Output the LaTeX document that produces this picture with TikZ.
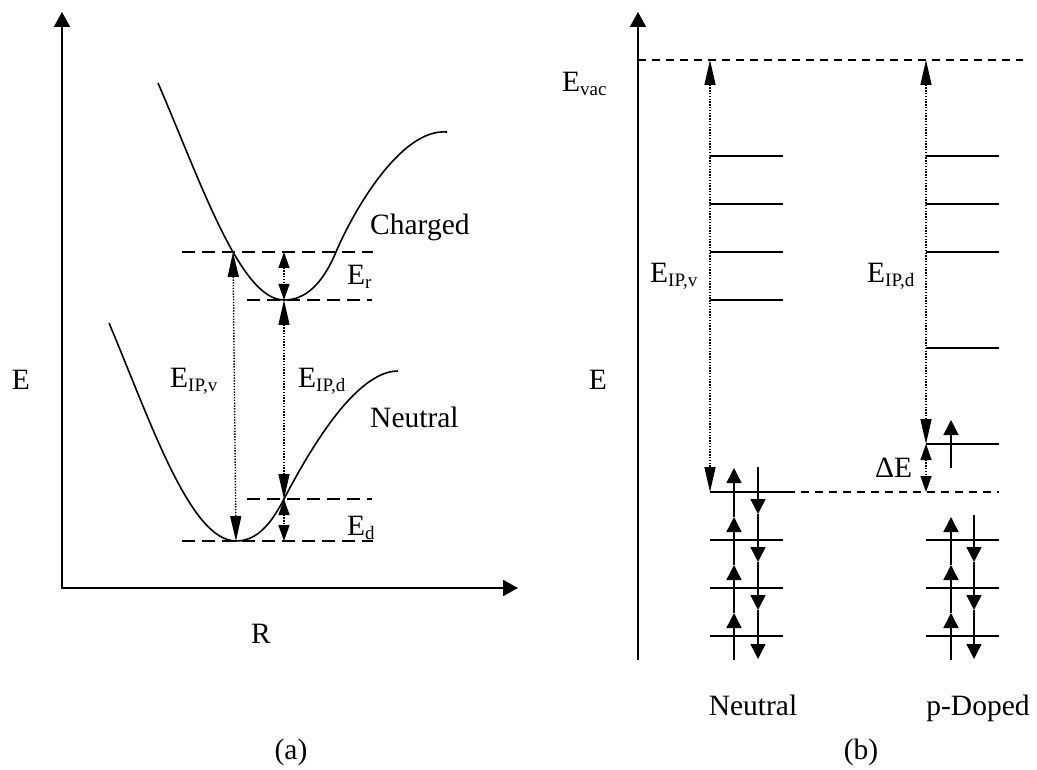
\documentclass[tikz,border=0pt]{standalone}
\usepackage{fontspec}
\setmainfont{Liberation Serif}
\usetikzlibrary{arrows.meta}
\newcommand{\lowsub}[1]{\raisebox{-4pt}{\fontsize{19}{19}\selectfont #1}}
\begin{document}
\begin{tikzpicture}[x=1pt,y=-1pt,
  axisline/.style={line width=1.8pt,line join=miter},
  axtip/.tip={Triangle[length=15pt,width=16pt]},
  longtip/.tip={Triangle[length=25pt,width=11pt]},
  shorttip/.tip={Triangle[length=16pt,width=11pt]},
  etip/.tip={Triangle[length=15pt,width=15pt]},
  curve/.style={line width=1.6pt},
  dashA/.style={line width=1.5pt,dash pattern=on 13pt off 7pt},
  dashB/.style={line width=1.5pt,dash pattern=on 8pt off 6pt},
  dotlong/.style={line width=1.4pt,dash pattern=on 1.4pt off 1.4pt,longtip-longtip},
  dotshort/.style={line width=1.4pt,dash pattern=on 1.4pt off 1.4pt,shorttip-shorttip},
  level/.style={line width=1.6pt},
  elec/.style={line width=1.6pt,-etip},
  lbl/.style={inner sep=0pt,font=\fontsize{29.5}{31}\selectfont}
]
\useasboundingbox (0,0) rectangle (1037,770);

% ---------------- panel (a) ----------------
\coordinate (aO) at (62,588);
\coordinate (aY) at (62,12);
\coordinate (aX) at (518,588);
\draw[axisline,axtip-axtip] (aY) -- (aO) -- (aX);

% curves
\draw[curve] (158,83) .. controls (200,180) and (240,300) .. (284,300)
  .. controls (305,300) and (322,285) .. (336,252)
  .. controls (352,214) and (400,128) .. (447,132);
\draw[curve] (109,323) .. controls (150,420) and (190,541) .. (236,541)
  .. controls (258,541) and (272,522) .. (284,499)
  .. controls (308,453) and (355,371) .. (398,371);

% dashed levels
\coordinate (cHiL) at (182,252); \coordinate (cHiR) at (373,252);
\coordinate (cLoL) at (247,300); \coordinate (cLoR) at (372,300);
\coordinate (nHiL) at (247,499); \coordinate (nHiR) at (372,499);
\coordinate (nLoL) at (182,541); \coordinate (nLoR) at (373,541);
\draw[dashA] (cHiL) -- (cHiR);
\draw[dashA] (cLoL) -- (cLoR);
\draw[dashA] (nHiL) -- (nHiR);
\draw[dashA] (nLoL) -- (nLoR);

% dotted arrows
\coordinate (vTop) at (233,252); \coordinate (vBot) at (236,541);
\coordinate (d1) at (284,252); \coordinate (d2) at (284,300);
\coordinate (d3) at (284,499); \coordinate (d4) at (284,541);
\draw[dotlong] (vTop) -- (vBot);
\draw[dotshort] (d1) -- (d2);
\draw[dotlong] (d2) -- (d3);
\draw[dotshort] (d3) -- (d4);

% labels (a)
\node[lbl] (aE) at (21,380) {E};
\node[lbl,anchor=base west] (charged) at (370,235) {Charged};
\node[lbl,anchor=base west] (Er) at (347,285) {E\lowsub{r}};
\node[lbl,anchor=base west] (neutralA) at (370,427) {Neutral};
\node[lbl,anchor=base west] (Ed) at (347,535) {E\lowsub{d}};
\node[lbl,anchor=base west] (EIPvA) at (170,388) {E\lowsub{IP,v}};
\node[lbl,anchor=base west] (EIPdA) at (298,388) {E\lowsub{IP,d}};
\node[lbl,anchor=base] (R) at (261,643) {R};
\node[lbl] (capA) at (291,752) {(a)};

% ---------------- panel (b) ----------------
\coordinate (bO) at (638,660);
\coordinate (bY) at (638,12);
\draw[axisline,-axtip] (bO) -- (bY);
\coordinate (vacL) at (638,60); \coordinate (vacR) at (1023,60);
\draw[dashB] (vacL) -- (vacR);

% neutral levels
\foreach \y in {156,204,252,300,540,588,636}
  \draw[level] (710,\y) -- (783,\y);
% p-doped levels
\foreach \y in {156,204,252,348,444,540,588,636}
  \draw[level] (926,\y) -- (999,\y);
% HOMO of neutral and its dashed continuation
\coordinate (homoL) at (710,492); \coordinate (homoM) at (787,492);
\coordinate (homoR) at (999,492);
\draw[level] (homoL) -- (homoM);
\draw[dashB] (homoM) -- (homoR);

% dotted arrows (b)
\coordinate (nv) at (710,60); \coordinate (pv) at (926,60);
\coordinate (pS) at (926,444); \coordinate (pH) at (926,492);
\draw[dotlong] (nv) -- (homoL);
\draw[dotlong] (pv) -- (pS);
\draw[dotshort] (pS) -- (pH);

% electrons, neutral
\draw[elec] (734,660) -- (734,613);
\draw[elec] (734,613) -- (734,565);
\draw[elec] (734,565) -- (734,517);
\draw[elec] (734,517) -- (734,468);
\draw[elec] (758,467) -- (758,514);
\draw[elec] (758,514) -- (758,562);
\draw[elec] (758,562) -- (758,610);
\draw[elec] (758,610) -- (758,659);
% electrons, p-doped
\draw[elec] (951,660) -- (951,613);
\draw[elec] (951,613) -- (951,565);
\draw[elec] (951,565) -- (951,517);
\draw[elec] (974,515) -- (974,562);
\draw[elec] (974,562) -- (974,610);
\draw[elec] (974,610) -- (974,659);
\draw[elec] (951,468) -- (951,420);

% labels (b)
\node[lbl,anchor=base west] (Evac) at (562,92) {E\lowsub{vac}};
\node[lbl] (bE) at (598,380) {E};
\node[lbl,anchor=base west] (EIPvB) at (650,283) {E\lowsub{IP,v}};
\node[lbl,anchor=base west] (EIPdB) at (867,283) {E\lowsub{IP,d}};
\node[lbl,anchor=base west] (dE) at (875,477) {ΔE};
\node[lbl,anchor=base] (neutralB) at (753,715) {Neutral};
\node[lbl,anchor=base] (pdoped) at (978,715) {p-Doped};
\node[lbl] (capB) at (861,752) {(b)};
\end{tikzpicture}
\end{document}
